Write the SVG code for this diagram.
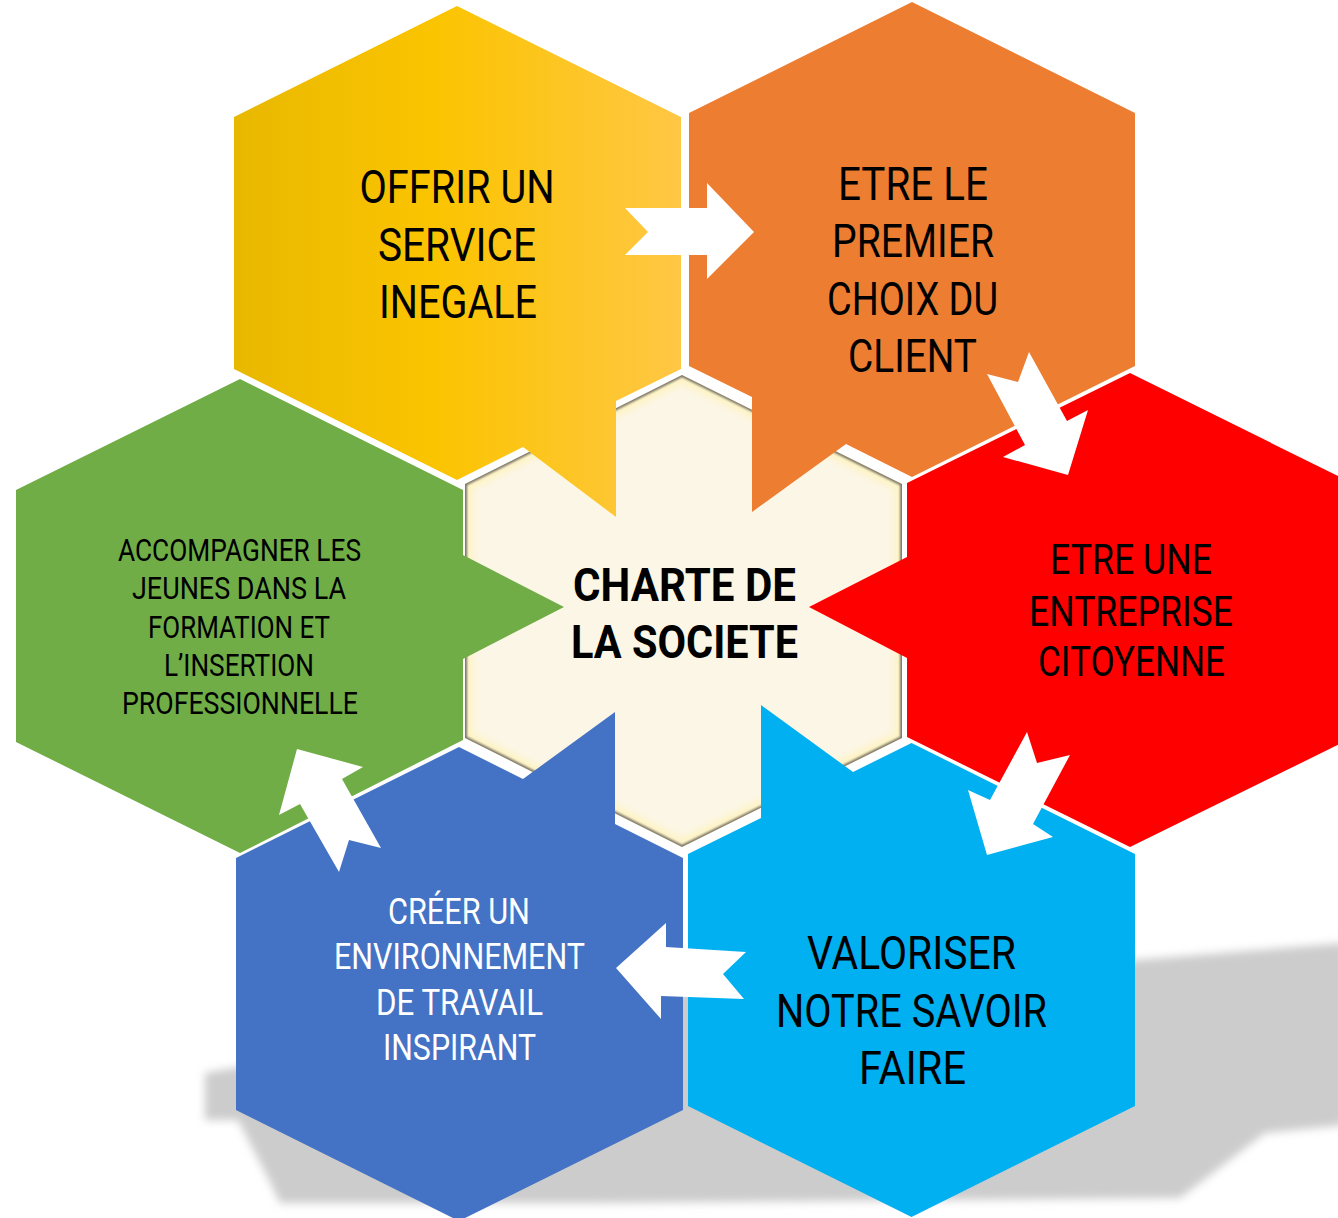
<svg xmlns="http://www.w3.org/2000/svg" width="1338" height="1218" viewBox="0 0 1338 1218">
<defs>
<style>
.t{font-family:Roboto,'Liberation Sans',sans-serif;font-size:47px;fill:#000;text-anchor:middle}
.b{font-weight:bold}
.w{fill:#fff}
.arrow{fill:#fff}
</style>
<linearGradient id="gy" gradientUnits="userSpaceOnUse" x1="234" y1="0" x2="681" y2="0">
<stop offset="0" stop-color="#E8B800"/>
<stop offset="0.45" stop-color="#FBC400"/>
<stop offset="1" stop-color="#FFC744"/>
</linearGradient>
<filter id="shblur" x="-10%" y="-30%" width="120%" height="160%"><feGaussianBlur stdDeviation="4"/></filter>
<filter id="b1" x="-10%" y="-10%" width="120%" height="120%"><feGaussianBlur stdDeviation="1.2"/></filter>
<filter id="b3" x="-10%" y="-10%" width="120%" height="120%"><feGaussianBlur stdDeviation="3"/></filter>
<clipPath id="cclip"><polygon points="682,375 902,484 902,738 682,847 465,738 465,484"/></clipPath>
</defs>
<rect width="1338" height="1218" fill="#fff"/>
<polygon id="shadow" points="205,1073 685,990 1135,960 1345,943 1345,1125 1265,1133 1180,1198 600,1203 280,1203 268,1178 238,1120 205,1120" fill="#CCCCCC" filter="url(#shblur)"/>

<g id="node-center">
<g clip-path="url(#cclip)">
<polygon points="682,375 902,484 902,738 682,847 465,738 465,484" fill="#FCF6E6"/>
<polygon points="682,375 902,484 902,738 682,847 465,738 465,484" fill="none" stroke="#FFF3B8" stroke-width="16" opacity="0.7" filter="url(#b3)"/>
<polygon points="682,375 902,484 902,738 682,847 465,738 465,484" fill="none" stroke="#7a7466" stroke-width="4" filter="url(#b1)"/>
</g>
</g>

<g id="node-yellow">
<polygon points="457,6 681,117 681,369 616,401 616,517 523,447 457,480 234,369 234,117" fill="url(#gy)"/>
<text class="t" x="457" y="203" textLength="195" lengthAdjust="spacingAndGlyphs">OFFRIR UN</text>
<text class="t" x="457" y="261" textLength="158" lengthAdjust="spacingAndGlyphs">SERVICE</text>
<text class="t" x="458" y="318" textLength="158" lengthAdjust="spacingAndGlyphs">INEGALE</text>
</g>

<g id="node-orange">
<polygon points="912,2 1135,113 1135,366 912,477 846,444 752,512 752,397 689,366 689,113" fill="#ED7D31"/>
<text class="t" x="913" y="200" textLength="150" lengthAdjust="spacingAndGlyphs">ETRE LE</text>
<text class="t" x="913" y="257" textLength="162" lengthAdjust="spacingAndGlyphs">PREMIER</text>
<text class="t" x="912.5" y="315" textLength="171" lengthAdjust="spacingAndGlyphs">CHOIX DU</text>
<text class="t" x="912.5" y="372" textLength="129" lengthAdjust="spacingAndGlyphs">CLIENT</text>
</g>

<g id="node-red">
<polygon points="1130,373 1354,484 1354,737 1130,847 907,737 907,658 809,607 907,557 907,483" fill="#FF0000"/>
<text class="t" x="1131" y="574" style="font-size:42px" textLength="162" lengthAdjust="spacingAndGlyphs">ETRE UNE</text>
<text class="t" x="1131" y="626" style="font-size:42px" textLength="204" lengthAdjust="spacingAndGlyphs">ENTREPRISE</text>
<text class="t" x="1131.5" y="676" style="font-size:42px" textLength="187" lengthAdjust="spacingAndGlyphs">CITOYENNE</text>
</g>

<g id="node-green">
<polygon points="240,379 463,490 463,555 564,607 463,659 463,740 240,853 16,742 16,490" fill="#70AD47"/>
<text class="t" x="239.5" y="561" style="font-size:32px" textLength="243" lengthAdjust="spacingAndGlyphs">ACCOMPAGNER LES</text>
<text class="t" x="239" y="599" style="font-size:32px" textLength="214" lengthAdjust="spacingAndGlyphs">JEUNES DANS LA</text>
<text class="t" x="239" y="638" style="font-size:32px" textLength="182" lengthAdjust="spacingAndGlyphs">FORMATION ET</text>
<text class="t" x="239" y="676" style="font-size:32px" textLength="150" lengthAdjust="spacingAndGlyphs">L’INSERTION</text>
<text class="t" x="240" y="714" style="font-size:32px" textLength="236" lengthAdjust="spacingAndGlyphs">PROFESSIONNELLE</text>
</g>

<g id="node-blue">
<polygon points="459,747 523,779 615,712 615,824 683,858 683,1110 459,1221 236,1110 236,858" fill="#4472C4"/>
<text class="t w" x="459" y="924" style="font-size:37px" textLength="142" lengthAdjust="spacingAndGlyphs">CRÉER UN</text>
<text class="t w" x="459.5" y="969" style="font-size:37px" textLength="251" lengthAdjust="spacingAndGlyphs">ENVIRONNEMENT</text>
<text class="t w" x="459.5" y="1015" style="font-size:37px" textLength="167" lengthAdjust="spacingAndGlyphs">DE TRAVAIL</text>
<text class="t w" x="459.5" y="1060" style="font-size:37px" textLength="153" lengthAdjust="spacingAndGlyphs">INSPIRANT</text>
</g>

<g id="node-cyan">
<polygon points="911.5,743 1135,854 1135,1106 911.5,1217 688,1106 688,854 761,818 761,705 853,772" fill="#00B0F0"/>
<text class="t" x="911.5" y="969" textLength="209" lengthAdjust="spacingAndGlyphs">VALORISER</text>
<text class="t" x="911.5" y="1027" textLength="271" lengthAdjust="spacingAndGlyphs">NOTRE SAVOIR</text>
<text class="t" x="912.5" y="1084" textLength="107" lengthAdjust="spacingAndGlyphs">FAIRE</text>
</g>

<g id="node-charte">
<text class="t b" x="684.5" y="601" textLength="223" lengthAdjust="spacingAndGlyphs">CHARTE DE</text>
<text class="t b" x="684.5" y="658" textLength="227" lengthAdjust="spacingAndGlyphs">LA SOCIETE</text>
</g>

<g id="connectors">
<polygon class="arrow" points="625,208 707,208 707,183 754,232 707,279 707,255 625,255 648,232"/>
<polygon class="arrow" points="1029,352 1067,421 1088,410 1068,475 1003,457 1025,445 987,374 1018,382"/>
<polygon class="arrow" points="1027,732 1037,763 1070,755 1033,824 1053,837 987,855 968,790 990,800"/>
<polygon class="arrow" points="616,968 666,923 666,947 746,952 723,974 744,999 661,996 661,1019"/>
<polygon class="arrow" points="297,749 363,767 342,779 381,848 349,840 339,872 300,804 279,815"/>
</g>
</svg>
